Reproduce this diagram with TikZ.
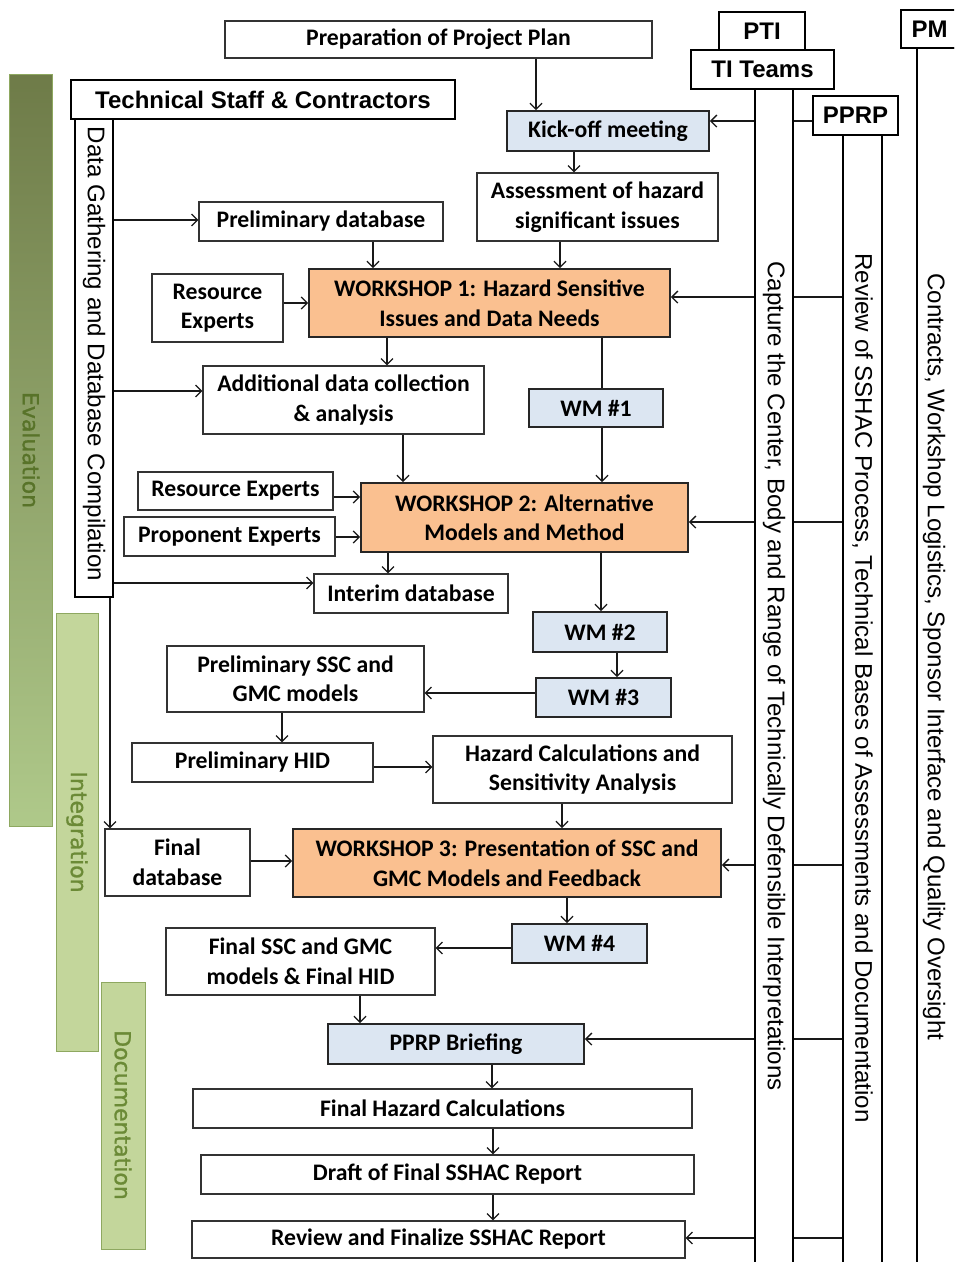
\documentclass[tikz,border=0pt]{standalone}
\usepackage{fontspec}
\setmainfont{Carlito}
\newfontfamily\arialf{Liberation Sans}
\newfontfamily\dvs[FakeBold=1.2]{DejaVu Sans}
\usetikzlibrary{arrows.meta}
\pgfdeclarelayer{bglayer}
\pgfsetlayers{bglayer,main}
\definecolor{wsorange}{HTML}{FAC090}
\definecolor{wmblue}{HTML}{DCE6F2}
\definecolor{bargreen}{HTML}{C3D69B}
\definecolor{baredge}{HTML}{8EA860}
\definecolor{bartext}{HTML}{6B8A36}
\definecolor{evaltext}{HTML}{587329}
\definecolor{evaltop}{HTML}{6E7B48}
\definecolor{evalmid}{HTML}{9DB574}
\definecolor{evalbot}{HTML}{AFC98A}
\definecolor{boxedge}{HTML}{333333}
\newcommand\bx[7]{\node[#6,minimum width={#4-#2},minimum height={#5-#3}] (#1) at ({(#2+#4)/2},{(#3+#5)/2}) {#7};}
\tikzset{
  wbox/.style={draw=boxedge, line width=1.1pt, fill=white, inner sep=0pt, align=center, font=\bfseries\fontsize{23.7}{29.5}\selectfont},
  obox/.style={wbox, fill=wsorange, draw=black!85, line width=1.8pt},
  bbox/.style={wbox, fill=wmblue, draw=black!85, line width=1.8pt},
  hbox/.style={draw=black, line width=1.8pt, fill=white, inner sep=0pt, font=\arialf\bfseries\fontsize{24}{28}\selectfont},
  colbox/.style={draw=black, line width=1.8pt, fill=white, inner sep=0pt},
  vtext/.style={rotate=-90, font=\arialf\fontsize{24.1}{28}\selectfont, inner sep=0pt},
  gbar/.style={draw=baredge, line width=0.8pt, fill=bargreen, inner sep=0pt},
  ebar/.style={draw=baredge, line width=0.8pt, top color=evaltop, middle color=evalmid, bottom color=evalbot, inner sep=0pt},
  gtext/.style={rotate=-90, text=bartext, inner sep=0pt, font=\dvs\fontsize{22}{26}\selectfont},
  arr/.style={draw=black!90, line width=1.3pt, -{Straight Barb[length=6pt,width=12pt]}},
  ln/.style={draw=black!90, line width=1.3pt},
  darr/.style={arr, dash pattern=on 8pt off 6pt},
}
\begin{document}
\begin{tikzpicture}[x=1pt,y=-1pt]
\useasboundingbox (0,0) rectangle (954,1262);
\clip (0,0) rectangle (954,1262);
\fill[white] (0,0) rectangle (954,1262);
% phase bars
\bx{evalbar}{9}{74}{52}{826}{ebar}{}
\bx{integbar}{56}{613}{98}{1051}{gbar}{}
\bx{docbar}{101}{982}{145}{1249}{gbar}{}
\node[gtext, text=evaltext] (evaltxt) at (31,450) {Evaluation};
\node[gtext] (integtxt) at (77,832) {Integration};
\node[gtext] (doctxt) at (123,1115) {Documentation};
% right columns
\bx{ticol}{755}{89}{793}{1266}{colbox}{}
\bx{pprpcol}{843}{135}{882}{1266}{colbox}{}
\bx{pmcol}{917}{48}{958}{1266}{colbox}{}
\bx{titeams}{691}{50}{834}{89}{hbox}{TI Teams}
\bx{pti}{719}{12}{805}{50}{hbox}{PTI}
\bx{pprpbox}{813}{96}{898}{135}{hbox}{PPRP}
\bx{pm}{901}{10}{958}{48}{hbox}{PM}
\node[vtext] (titxt) at (774,676) {Capture the Center, Body and Range of Technically Defensible Interpretations};
\node[vtext] (pprptxt) at (862.5,688) {Review of SSHAC Process, Technical Bases of Assessments and Documentation};
\node[vtext] (pmtxt) at (934,657) {Contracts, Workshop Logistics, Sponsor Interface and Quality Oversight};
% left staff
\bx{tech}{71}{80}{455}{119}{hbox}{Technical Staff \& Contractors}
\bx{dcol}{75}{119}{113}{597}{colbox}{}
\node[vtext] (dtxt) at (94,354) {Data Gathering and Database Compilation};
% flow boxes
\bx{prep}{225}{21}{652}{58}{wbox}{Preparation of Project Plan}
\bx{kick}{507}{111}{709}{151}{bbox}{Kick-off meeting}
\bx{assess}{477}{173}{718}{241}{wbox}{Assessment of hazard\\significant issues}
\bx{pdb}{199}{202}{443}{241}{wbox}{Preliminary database}
\bx{reone}{152}{274}{283}{342}{wbox}{Resource\\Experts}
\bx{wsone}{309}{269}{670}{337}{obox}{WORKSHOP 1: Hazard Sensitive\\Issues and Data Needs}
\bx{add}{203}{366}{484}{434}{wbox}{Additional data collection\\\& analysis}
\bx{wmone}{529}{389}{663}{427}{bbox}{WM \#1}
\bx{retwo}{138}{472}{333}{510}{wbox}{Resource Experts}
\bx{pe}{124}{517}{335}{556}{wbox}{Proponent Experts}
\bx{wstwo}{361}{483}{688}{552}{obox}{WORKSHOP 2: Alternative\\Models and Method}
\bx{idb}{314}{574}{508}{613}{wbox}{Interim database}
\bx{wmtwo}{533}{612}{667}{652}{bbox}{WM \#2}
\bx{wmthree}{536}{678}{671}{717}{bbox}{WM \#3}
\bx{pssc}{167}{646}{424}{712}{wbox}{Preliminary SSC and\\GMC models}
\bx{phid}{132}{743}{373}{782}{wbox}{Preliminary HID}
\bx{hcalc}{433}{736}{732}{803}{wbox}{Hazard Calculations and\\Sensitivity Analysis}
\bx{fdb}{105}{829}{250}{896}{wbox}{Final\\database}
\bx{wsthree}{293}{829}{721}{897}{obox}{WORKSHOP 3: Presentation of SSC and\\GMC Models and Feedback}
\bx{wmfour}{512}{924}{647}{963}{bbox}{WM \#4}
\bx{fssc}{166}{928}{435}{995}{wbox}{Final SSC and GMC\\models \& Final HID}
\bx{ppb}{328}{1024}{584}{1064}{bbox}{PPRP Briefing}
\bx{fhc}{193}{1089}{692}{1128}{wbox}{Final Hazard Calculations}
\bx{draft}{201}{1155}{694}{1194}{wbox}{Draft of Final SSHAC Report}
\bx{review}{192}{1221}{685}{1258}{wbox}{Review and Finalize SSHAC Report}
% connectors: main flow
\draw[arr] (prep.south -| 536,0) -- (kick.north -| 536,0);
\draw[arr] (kick.south -| 574,0) -- (assess.north -| 574,0);
\draw[arr] (pdb.south -| 373,0) -- (wsone.north -| 373,0);
\draw[arr] (assess.south -| 560,0) -- (wsone.north -| 560,0);
\draw[arr] (reone.east |- 0,303) -- (wsone.west |- 0,303);
\draw[arr] (wsone.south -| 387,0) -- (add.north -| 387,0);
\draw[ln] (wsone.south -| 602,0) -- (wmone.north -| 602,0);
\draw[arr] (wmone.south -| 602,0) -- (wstwo.north -| 602,0);
\draw[arr] (add.south -| 403,0) -- (wstwo.north -| 403,0);
\draw[arr] (retwo.east |- 0,497) -- (wstwo.west |- 0,497);
\draw[arr] (pe.east |- 0,537) -- (wstwo.west |- 0,537);
\draw[arr] (wstwo.south -| 388,0) -- (idb.north -| 388,0);
\draw[arr] (wstwo.south -| 601,0) -- (wmtwo.north -| 601,0);
\draw[arr] (wmtwo.south -| 617,0) -- (wmthree.north -| 617,0);
\draw[arr] (wmthree.west |- 0,693) -- (pssc.east |- 0,693);
\draw[arr] (pssc.south -| 282,0) -- (phid.north -| 282,0);
\draw[arr] (phid.east |- 0,767) -- (hcalc.west |- 0,767);
\draw[arr] (hcalc.south -| 562,0) -- (wsthree.north -| 562,0);
\draw[arr] (fdb.east |- 0,861) -- (wsthree.west |- 0,861);
\draw[arr] (wsthree.south -| 567,0) -- (wmfour.north -| 567,0);
\draw[arr] (wmfour.west |- 0,948) -- (fssc.east |- 0,948);
\draw[arr] (fssc.south -| 360,0) -- (ppb.north -| 360,0);
\draw[arr] (ppb.south -| 492,0) -- (fhc.north -| 492,0);
\draw[arr] (fhc.south -| 493,0) -- (draft.north -| 493,0);
\draw[arr] (draft.south -| 493,0) -- (review.north -| 493,0);
% data column
\draw[arr] (dcol.east |- 0,220) -- (pdb.west |- 0,220);
\draw[arr] (dcol.east |- 0,391) -- (add.west |- 0,391);
\draw[arr] (dcol.east |- 0,583) -- (idb.west |- 0,583);
\draw[arr] (dcol.south -| 110,0) -- (fdb.north -| 110,0);
% TI and PPRP inputs
\draw[arr] (ticol.west |- 0,121) -- (kick.east |- 0,121);
\draw[ln] (pprpbox.west |- 0,121) -- (ticol.east |- 0,121);
\draw[arr] (ticol.west |- 0,297) -- (wsone.east |- 0,297);
\draw[ln] (pprpcol.west |- 0,297) -- (ticol.east |- 0,297);
\draw[arr] (ticol.west |- 0,522) -- (wstwo.east |- 0,522);
\draw[ln] (pprpcol.west |- 0,522) -- (ticol.east |- 0,522);
\draw[arr] (ticol.west |- 0,865) -- (wsthree.east |- 0,865);
\draw[ln] (pprpcol.west |- 0,865) -- (ticol.east |- 0,865);
\draw[arr] (ticol.west |- 0,1039) -- (ppb.east |- 0,1039);
\draw[ln] (pprpcol.west |- 0,1039) -- (ticol.east |- 0,1039);
\draw[arr] (ticol.west |- 0,1238) -- (review.east |- 0,1238);
\draw[ln] (pprpcol.west |- 0,1238) -- (ticol.east |- 0,1238);
% dashed PPRP review links (behind TI column)
\begin{pgfonlayer}{bglayer}
\draw[darr] (pprpcol.west |- 0,408) -- (wmone.east |- 0,408);
\draw[darr] (pprpcol.west |- 0,636) -- (wmtwo.east |- 0,636);
\draw[darr] (pprpcol.west |- 0,698) -- (wmthree.east |- 0,698);
\draw[darr] (pprpcol.west |- 0,943) -- (wmfour.east |- 0,943);
\end{pgfonlayer}
\end{tikzpicture}
\end{document}
